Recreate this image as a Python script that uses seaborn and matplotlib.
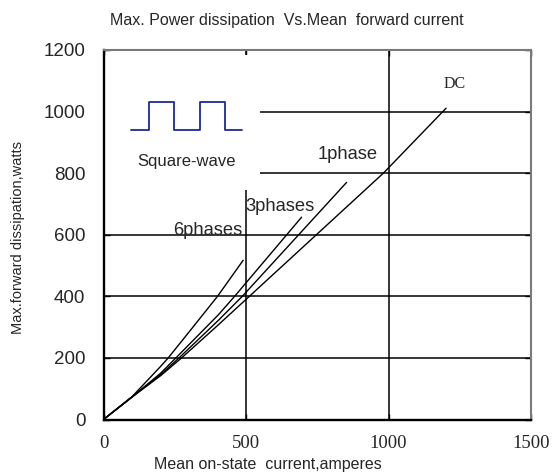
import matplotlib
matplotlib.use("Agg")
import matplotlib.pyplot as plt
import seaborn as sns
import pandas as pd
from matplotlib.patches import Rectangle

# ---- data ----
x_six = [0, 100, 200, 227, 300, 400, 490]
y_six = [0, 74, 172, 200, 284, 400, 517]

x_three = [0, 100, 200, 254, 403, 460, 695]
y_three = [0, 73, 150, 200, 340, 400, 657]

x_one = [0, 100, 200, 265, 403, 487, 853]
y_one = [0, 73, 145, 200, 322, 400, 770]

x_dc = [0, 100, 200, 274, 400, 500, 982, 1202]
y_dc = [0, 73, 142, 200, 305, 390, 800, 1011]

series_names = ["6phases", "3phases", "1phase", "DC"]
x_ticks = [0, 500, 1000, 1500]
y_ticks = [0, 200, 400, 600, 800, 1000, 1200]

wave_t = [0, 0.7, 0.7, 1.7, 1.7, 2.7, 2.7, 3.7, 3.7, 4.35]
wave_level = [0, 0, 1, 1, 0, 0, 1, 1, 0, 0]

title = "Max. Power dissipation  Vs.Mean  forward current"
x_label = "Mean on-state  current,amperes"
y_label = "Max.forward dissipation,watts"

df = pd.concat([
    pd.DataFrame({"current": xs, "power": ys, "series": name})
    for name, xs, ys in zip(series_names, [x_six, x_three, x_one, x_dc],
                            [y_six, y_three, y_one, y_dc])
], ignore_index=True)

sns.set_theme(style="white")
plt.rcParams["font.family"] = ["Liberation Sans", "DejaVu Sans"]
SERIF = ["Liberation Serif", "DejaVu Serif"]

fig = plt.figure(figsize=(5.52, 4.76), dpi=100)
ax = fig.add_axes([103.5 / 552, 1 - 419.5 / 476, 427.5 / 552, 369.5 / 476])

# grid lines (manual so the inset box can cover part of them)
for yv in y_ticks[1:-1]:
    ax.axhline(yv, color="black", lw=1.1, zorder=1)
for xv in x_ticks[1:-1]:
    ax.axvline(xv, color="black", lw=1.1, zorder=1)

# white box behind the square-wave icon
ax.add_patch(Rectangle((0, 0.6216), 0.366, 0.365, transform=ax.transAxes,
                       facecolor="white", edgecolor="none", zorder=1.5))

sns.lineplot(data=df, x="current", y="power", units="series", estimator=None,
             sort=False, color="black", lw=1.0, legend=False, ax=ax, zorder=2)

ax.set_xlim(0, 1500)
ax.set_ylim(0, 1200)
ax.set_xticks(x_ticks)
ax.set_yticks(y_ticks)
ax.set_xticklabels([str(v) for v in x_ticks], family=SERIF, fontsize=13.5)
ax.set_yticklabels([str(v) for v in y_ticks], fontsize=13.5)
ax.tick_params(axis="y", direction="in", length=4, width=1, color="black",
               right=True, left=True, pad=13)
ax.tick_params(axis="x", direction="in", length=4, width=1, color="black",
               top=True, bottom=True, pad=11)

for side in ["left", "bottom"]:
    ax.spines[side].set_color("black")
    ax.spines[side].set_linewidth(1.7)
for side in ["top", "right"]:
    ax.spines[side].set_color("#7a7a7a")
    ax.spines[side].set_linewidth(1.5)

ax.set_xlabel(x_label, fontsize=11.5)
ax.xaxis.set_label_coords((268.3 - 103.5) / 427.5, (419.5 - 465) / 369.5)
ax.xaxis.label.set_va("center")
ax.set_ylabel(y_label, fontsize=10.5)
ax.yaxis.set_label_coords((18 - 103.5) / 427.5, (419.5 - 237) / 369.5)
ax.yaxis.label.set_va("center")

fig.text(287 / 552, 1 - 21 / 476, title, ha="center", va="center", fontsize=11.5)

# series labels
ax.text(488, 600, "6phases", ha="right", va="baseline", fontsize=13.2, zorder=3)
ax.text(499, 676, "3phases", ha="left", va="baseline", fontsize=13.2, zorder=3)
ax.text(750, 845, "1phase", ha="left", va="baseline", fontsize=13.2, zorder=3)
ax.text(1231, 1089, "DC", ha="center", va="center", family=SERIF, fontsize=11.5, zorder=3)

# square-wave icon
ax.text(292, 838, "Square-wave", ha="center", va="center", fontsize=12, zorder=3)
iax = fig.add_axes([131 / 552, 1 - 130 / 476, 110.7 / 552, 28 / 476])
iax.plot(wave_t, wave_level, color="#1c2a96", lw=1.3, clip_on=False)
iax.set_xlim(0, 4.35)
iax.set_ylim(0, 1)
iax.axis("off")

fig.savefig("out.png", dpi=100)
